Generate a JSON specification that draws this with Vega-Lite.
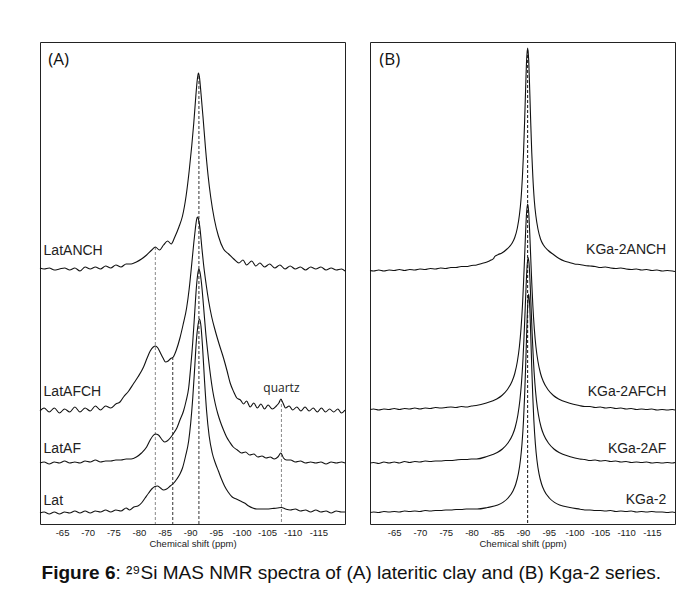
{
"$schema":"https://vega.github.io/schema/vega-lite/v6.json",
"padding":{"left":37,"top":41,"right":0,"bottom":0},
"autosize":{"type":"pad"},
"background":"white",
"config":{"view":{"stroke":"#222","strokeWidth":1},"font":"Liberation Sans","axis":{"grid":false},
"axisX":{"ticks":false,"domain":false,"labelFontSize":9.5,"labelColor":"#1a1a1a","labelPadding":3,"labelFont":"Liberation Sans","titleFont":"Liberation Sans","titleFontSize":9.5,"titleFontWeight":"normal","titleColor":"#1a1a1a","titlePadding":2}},
"spacing":14,
"vconcat":[
{"spacing":19,
"hconcat":[
{"width":305,"height":482,
"layer":[
{"data":{"values":[{"x":-83.2,"top":277,"b":0},{"x":-107.8,"top":125,"b":0}]},"mark":{"type":"rule","color":"#8a8a8a","strokeWidth":1,"strokeDash":[3,2]},
"encoding":{"x":{"field":"x","type":"quantitative","title":"Chemical shift (ppm)","axis":{"values":[-65,-70,-75,-80,-85,-90,-95,-100,-105,-110,-115],"labelExpr":"'' + datum.value"}},"y":{"field":"top","type":"quantitative","axis":null},"y2":{"field":"b"}}},
{"data":{"values":[{"x":-86.6,"top":167,"b":0},{"x":-91.7,"top":448,"b":0}]},"mark":{"type":"rule","color":"#333","strokeWidth":1,"strokeDash":[3,2]},
"encoding":{"x":{"field":"x","type":"quantitative","title":"Chemical shift (ppm)","axis":{"values":[-65,-70,-75,-80,-85,-90,-95,-100,-105,-110,-115],"labelExpr":"'' + datum.value"}},"y":{"field":"top","type":"quantitative","axis":null},"y2":{"field":"b"}}},
{"data":{"values":[
{"s":"LatANCH","x":-60.7,"v":256},{"s":"LatANCH","x":-61.5,"v":255},{"s":"LatANCH","x":-62.5,"v":256},{"s":"LatANCH","x":-63.5,"v":254},{"s":"LatANCH","x":-64.5,"v":255},{"s":"LatANCH","x":-65.5,"v":256},{"s":"LatANCH","x":-66.5,"v":254},{"s":"LatANCH","x":-67.5,"v":256},{"s":"LatANCH","x":-68.5,"v":253},{"s":"LatANCH","x":-69.5,"v":257},{"s":"LatANCH","x":-70.5,"v":255},{"s":"LatANCH","x":-71.5,"v":257},{"s":"LatANCH","x":-72.5,"v":255},{"s":"LatANCH","x":-73.5,"v":258},{"s":"LatANCH","x":-74.5,"v":256},{"s":"LatANCH","x":-75.5,"v":259},{"s":"LatANCH","x":-76.5,"v":257},{"s":"LatANCH","x":-77.5,"v":260},{"s":"LatANCH","x":-78.5,"v":260},{"s":"LatANCH","x":-79.5,"v":262},{"s":"LatANCH","x":-80.5,"v":265},{"s":"LatANCH","x":-81.5,"v":269},{"s":"LatANCH","x":-82.5,"v":274},{"s":"LatANCH","x":-83.2,"v":277},{"s":"LatANCH","x":-84,"v":274},{"s":"LatANCH","x":-84.8,"v":279},{"s":"LatANCH","x":-85.6,"v":283},{"s":"LatANCH","x":-86.3,"v":280},{"s":"LatANCH","x":-87,"v":287},{"s":"LatANCH","x":-87.8,"v":297},{"s":"LatANCH","x":-88.5,"v":308},{"s":"LatANCH","x":-89.2,"v":328},{"s":"LatANCH","x":-89.8,"v":353},{"s":"LatANCH","x":-90.3,"v":378},{"s":"LatANCH","x":-90.7,"v":401},{"s":"LatANCH","x":-91.1,"v":428},{"s":"LatANCH","x":-91.4,"v":445},{"s":"LatANCH","x":-91.6,"v":451},{"s":"LatANCH","x":-91.8,"v":447},{"s":"LatANCH","x":-92.1,"v":431},{"s":"LatANCH","x":-92.5,"v":407},{"s":"LatANCH","x":-93,"v":375},{"s":"LatANCH","x":-93.5,"v":348},{"s":"LatANCH","x":-94,"v":327},{"s":"LatANCH","x":-94.7,"v":305},{"s":"LatANCH","x":-95.5,"v":288},{"s":"LatANCH","x":-96.5,"v":275},{"s":"LatANCH","x":-97.5,"v":270},{"s":"LatANCH","x":-98.5,"v":265},{"s":"LatANCH","x":-99.5,"v":261},{"s":"LatANCH","x":-100.3,"v":264},{"s":"LatANCH","x":-101,"v":259},{"s":"LatANCH","x":-102,"v":263},{"s":"LatANCH","x":-102.8,"v":258},{"s":"LatANCH","x":-103.6,"v":261},{"s":"LatANCH","x":-104.5,"v":257},{"s":"LatANCH","x":-105.5,"v":260},{"s":"LatANCH","x":-106.5,"v":256},{"s":"LatANCH","x":-107.5,"v":259},{"s":"LatANCH","x":-108.5,"v":255},{"s":"LatANCH","x":-109.5,"v":258},{"s":"LatANCH","x":-110.5,"v":255},{"s":"LatANCH","x":-111.5,"v":257},{"s":"LatANCH","x":-112.5,"v":254},{"s":"LatANCH","x":-113.5,"v":257},{"s":"LatANCH","x":-114.5,"v":255},{"s":"LatANCH","x":-115.5,"v":257},{"s":"LatANCH","x":-116.5,"v":254},{"s":"LatANCH","x":-117.5,"v":256},{"s":"LatANCH","x":-118.5,"v":254},{"s":"LatANCH","x":-119.5,"v":255},{"s":"LatANCH","x":-120.2,"v":253},
{"s":"LatAFCH","x":-60.7,"v":113},{"s":"LatAFCH","x":-61.5,"v":116},{"s":"LatAFCH","x":-62.5,"v":112},{"s":"LatAFCH","x":-63.5,"v":116},{"s":"LatAFCH","x":-64.5,"v":111},{"s":"LatAFCH","x":-65.5,"v":115},{"s":"LatAFCH","x":-66.5,"v":112},{"s":"LatAFCH","x":-67.5,"v":117},{"s":"LatAFCH","x":-68.5,"v":112},{"s":"LatAFCH","x":-69.5,"v":116},{"s":"LatAFCH","x":-70.5,"v":113},{"s":"LatAFCH","x":-71.5,"v":118},{"s":"LatAFCH","x":-72.5,"v":114},{"s":"LatAFCH","x":-73.5,"v":118},{"s":"LatAFCH","x":-74.5,"v":116},{"s":"LatAFCH","x":-75.5,"v":120},{"s":"LatAFCH","x":-76.3,"v":122},{"s":"LatAFCH","x":-77,"v":127},{"s":"LatAFCH","x":-78,"v":133},{"s":"LatAFCH","x":-78.9,"v":140},{"s":"LatAFCH","x":-79.8,"v":147},{"s":"LatAFCH","x":-80.9,"v":157},{"s":"LatAFCH","x":-81.6,"v":166},{"s":"LatAFCH","x":-82.2,"v":173},{"s":"LatAFCH","x":-82.8,"v":177},{"s":"LatAFCH","x":-83.2,"v":178},{"s":"LatAFCH","x":-83.7,"v":176},{"s":"LatAFCH","x":-84.2,"v":171},{"s":"LatAFCH","x":-84.7,"v":166},{"s":"LatAFCH","x":-85.2,"v":162},{"s":"LatAFCH","x":-85.7,"v":163},{"s":"LatAFCH","x":-86.2,"v":165.5},{"s":"LatAFCH","x":-86.7,"v":167},{"s":"LatAFCH","x":-87.3,"v":174},{"s":"LatAFCH","x":-88,"v":186},{"s":"LatAFCH","x":-88.6,"v":199},{"s":"LatAFCH","x":-89.3,"v":216},{"s":"LatAFCH","x":-89.8,"v":235},{"s":"LatAFCH","x":-90.3,"v":260},{"s":"LatAFCH","x":-90.7,"v":281},{"s":"LatAFCH","x":-91,"v":295},{"s":"LatAFCH","x":-91.2,"v":303},{"s":"LatAFCH","x":-91.4,"v":307},{"s":"LatAFCH","x":-91.6,"v":305},{"s":"LatAFCH","x":-91.9,"v":296},{"s":"LatAFCH","x":-92.3,"v":275},{"s":"LatAFCH","x":-92.6,"v":260},{"s":"LatAFCH","x":-93.1,"v":240},{"s":"LatAFCH","x":-93.6,"v":223},{"s":"LatAFCH","x":-94.2,"v":207},{"s":"LatAFCH","x":-94.9,"v":193},{"s":"LatAFCH","x":-95.7,"v":179},{"s":"LatAFCH","x":-96.5,"v":166},{"s":"LatAFCH","x":-97.2,"v":153},{"s":"LatAFCH","x":-97.8,"v":141},{"s":"LatAFCH","x":-98.5,"v":132},{"s":"LatAFCH","x":-99.1,"v":126},{"s":"LatAFCH","x":-99.8,"v":124},{"s":"LatAFCH","x":-100.4,"v":120},{"s":"LatAFCH","x":-101,"v":123},{"s":"LatAFCH","x":-101.7,"v":117},{"s":"LatAFCH","x":-102.4,"v":121},{"s":"LatAFCH","x":-103.1,"v":116},{"s":"LatAFCH","x":-103.8,"v":120},{"s":"LatAFCH","x":-104.5,"v":115},{"s":"LatAFCH","x":-105.2,"v":119},{"s":"LatAFCH","x":-106,"v":115},{"s":"LatAFCH","x":-106.8,"v":118},{"s":"LatAFCH","x":-107.3,"v":121},{"s":"LatAFCH","x":-107.7,"v":125},{"s":"LatAFCH","x":-108.1,"v":121},{"s":"LatAFCH","x":-108.6,"v":116},{"s":"LatAFCH","x":-109.3,"v":118},{"s":"LatAFCH","x":-110,"v":114},{"s":"LatAFCH","x":-110.8,"v":117},{"s":"LatAFCH","x":-111.6,"v":113},{"s":"LatAFCH","x":-112.4,"v":117},{"s":"LatAFCH","x":-113.2,"v":113},{"s":"LatAFCH","x":-114,"v":116},{"s":"LatAFCH","x":-114.8,"v":112},{"s":"LatAFCH","x":-115.6,"v":116},{"s":"LatAFCH","x":-116.4,"v":112},{"s":"LatAFCH","x":-117.2,"v":115},{"s":"LatAFCH","x":-118,"v":112},{"s":"LatAFCH","x":-118.8,"v":115},{"s":"LatAFCH","x":-119.5,"v":111},{"s":"LatAFCH","x":-120.2,"v":114},
{"s":"LatAF","x":-60.7,"v":61},{"s":"LatAF","x":-61.5,"v":62},{"s":"LatAF","x":-62.5,"v":60},{"s":"LatAF","x":-63.5,"v":62},{"s":"LatAF","x":-64.5,"v":61},{"s":"LatAF","x":-65.5,"v":63},{"s":"LatAF","x":-66.5,"v":61},{"s":"LatAF","x":-67.5,"v":62},{"s":"LatAF","x":-68.5,"v":61},{"s":"LatAF","x":-69.5,"v":63},{"s":"LatAF","x":-70.5,"v":62},{"s":"LatAF","x":-71.5,"v":64},{"s":"LatAF","x":-72.5,"v":62},{"s":"LatAF","x":-73.5,"v":63},{"s":"LatAF","x":-74.5,"v":63},{"s":"LatAF","x":-75.5,"v":64},{"s":"LatAF","x":-76.5,"v":64},{"s":"LatAF","x":-77.5,"v":65},{"s":"LatAF","x":-78.5,"v":65},{"s":"LatAF","x":-79.5,"v":67},{"s":"LatAF","x":-80.5,"v":71},{"s":"LatAF","x":-81.5,"v":77},{"s":"LatAF","x":-82.2,"v":84},{"s":"LatAF","x":-82.7,"v":88},{"s":"LatAF","x":-83.2,"v":90},{"s":"LatAF","x":-83.8,"v":89},{"s":"LatAF","x":-84.4,"v":85},{"s":"LatAF","x":-85,"v":82},{"s":"LatAF","x":-85.5,"v":83},{"s":"LatAF","x":-86.1,"v":86},{"s":"LatAF","x":-86.8,"v":91},{"s":"LatAF","x":-87.4,"v":96},{"s":"LatAF","x":-88,"v":104},{"s":"LatAF","x":-88.7,"v":113},{"s":"LatAF","x":-89.2,"v":123},{"s":"LatAF","x":-89.7,"v":136},{"s":"LatAF","x":-90.1,"v":157},{"s":"LatAF","x":-90.5,"v":182},{"s":"LatAF","x":-90.9,"v":213},{"s":"LatAF","x":-91.2,"v":236},{"s":"LatAF","x":-91.5,"v":251},{"s":"LatAF","x":-91.7,"v":255},{"s":"LatAF","x":-91.9,"v":252},{"s":"LatAF","x":-92.2,"v":241},{"s":"LatAF","x":-92.6,"v":218},{"s":"LatAF","x":-93,"v":193},{"s":"LatAF","x":-93.4,"v":173},{"s":"LatAF","x":-93.9,"v":151},{"s":"LatAF","x":-94.4,"v":133},{"s":"LatAF","x":-94.9,"v":120},{"s":"LatAF","x":-95.4,"v":110},{"s":"LatAF","x":-95.9,"v":102},{"s":"LatAF","x":-96.5,"v":94},{"s":"LatAF","x":-97.1,"v":87},{"s":"LatAF","x":-97.7,"v":82},{"s":"LatAF","x":-98.4,"v":77},{"s":"LatAF","x":-99.2,"v":74},{"s":"LatAF","x":-100,"v":71},{"s":"LatAF","x":-100.8,"v":72},{"s":"LatAF","x":-101.6,"v":69},{"s":"LatAF","x":-102.4,"v":70},{"s":"LatAF","x":-103.2,"v":67},{"s":"LatAF","x":-104,"v":68},{"s":"LatAF","x":-104.8,"v":66},{"s":"LatAF","x":-105.6,"v":67},{"s":"LatAF","x":-106.4,"v":65},{"s":"LatAF","x":-107.1,"v":67},{"s":"LatAF","x":-107.7,"v":71},{"s":"LatAF","x":-108.2,"v":66},{"s":"LatAF","x":-108.8,"v":64},{"s":"LatAF","x":-109.6,"v":64},{"s":"LatAF","x":-110.5,"v":62},{"s":"LatAF","x":-111.5,"v":63},{"s":"LatAF","x":-112.5,"v":61},{"s":"LatAF","x":-113.5,"v":62},{"s":"LatAF","x":-114.5,"v":61},{"s":"LatAF","x":-115.5,"v":62},{"s":"LatAF","x":-116.5,"v":60},{"s":"LatAF","x":-117.5,"v":62},{"s":"LatAF","x":-118.5,"v":61},{"s":"LatAF","x":-119.5,"v":62},{"s":"LatAF","x":-120.2,"v":61},
{"s":"Lat","x":-60.7,"v":11},{"s":"Lat","x":-61.5,"v":12},{"s":"Lat","x":-62.5,"v":10},{"s":"Lat","x":-63.5,"v":12},{"s":"Lat","x":-64.5,"v":10},{"s":"Lat","x":-65.5,"v":12},{"s":"Lat","x":-66.5,"v":11},{"s":"Lat","x":-67.5,"v":13},{"s":"Lat","x":-68.5,"v":11},{"s":"Lat","x":-69.5,"v":13},{"s":"Lat","x":-70.5,"v":11},{"s":"Lat","x":-71.5,"v":13},{"s":"Lat","x":-72.5,"v":12},{"s":"Lat","x":-73.5,"v":14},{"s":"Lat","x":-74.5,"v":12},{"s":"Lat","x":-75.5,"v":14},{"s":"Lat","x":-76.5,"v":13},{"s":"Lat","x":-77.5,"v":16},{"s":"Lat","x":-78.2,"v":14},{"s":"Lat","x":-79,"v":17},{"s":"Lat","x":-79.8,"v":18},{"s":"Lat","x":-80.5,"v":21},{"s":"Lat","x":-81.2,"v":26},{"s":"Lat","x":-81.9,"v":31},{"s":"Lat","x":-82.5,"v":35},{"s":"Lat","x":-83.1,"v":37.5},{"s":"Lat","x":-83.6,"v":38},{"s":"Lat","x":-84.2,"v":36},{"s":"Lat","x":-84.8,"v":34},{"s":"Lat","x":-85.4,"v":35},{"s":"Lat","x":-86.1,"v":38},{"s":"Lat","x":-86.8,"v":41},{"s":"Lat","x":-87.4,"v":45},{"s":"Lat","x":-88,"v":50},{"s":"Lat","x":-88.5,"v":56},{"s":"Lat","x":-89.1,"v":68},{"s":"Lat","x":-89.7,"v":83},{"s":"Lat","x":-90.1,"v":101},{"s":"Lat","x":-90.5,"v":126},{"s":"Lat","x":-90.9,"v":158},{"s":"Lat","x":-91.2,"v":183},{"s":"Lat","x":-91.5,"v":198},{"s":"Lat","x":-91.8,"v":205},{"s":"Lat","x":-92.1,"v":198},{"s":"Lat","x":-92.4,"v":178},{"s":"Lat","x":-92.8,"v":143},{"s":"Lat","x":-93.2,"v":113},{"s":"Lat","x":-93.7,"v":88},{"s":"Lat","x":-94.3,"v":71},{"s":"Lat","x":-94.9,"v":61},{"s":"Lat","x":-95.5,"v":53},{"s":"Lat","x":-96.1,"v":45},{"s":"Lat","x":-96.7,"v":38},{"s":"Lat","x":-97.4,"v":32},{"s":"Lat","x":-98.2,"v":27},{"s":"Lat","x":-99,"v":25},{"s":"Lat","x":-99.8,"v":23},{"s":"Lat","x":-100.6,"v":21},{"s":"Lat","x":-101.4,"v":18},{"s":"Lat","x":-102.2,"v":16},{"s":"Lat","x":-103,"v":15},{"s":"Lat","x":-104,"v":15},{"s":"Lat","x":-105,"v":15},{"s":"Lat","x":-106,"v":15.5},{"s":"Lat","x":-107,"v":16},{"s":"Lat","x":-107.8,"v":16.5},{"s":"Lat","x":-108.6,"v":15},{"s":"Lat","x":-109.5,"v":14},{"s":"Lat","x":-110.5,"v":15},{"s":"Lat","x":-111.5,"v":13},{"s":"Lat","x":-112.5,"v":14},{"s":"Lat","x":-113.5,"v":12},{"s":"Lat","x":-114.5,"v":14},{"s":"Lat","x":-115.5,"v":12},{"s":"Lat","x":-116.5,"v":13},{"s":"Lat","x":-117.5,"v":11},{"s":"Lat","x":-118.5,"v":13},{"s":"Lat","x":-119.5,"v":12},{"s":"Lat","x":-120.2,"v":12}
]},"mark":{"type":"line","color":"#111","strokeWidth":1.1,"interpolate":"monotone"},
"encoding":{
"x":{"field":"x","type":"quantitative","title":"Chemical shift (ppm)","scale":{"domain":[-120.2,-60.7],"reverse":true,"nice":false,"zero":false},"axis":{"values":[-65,-70,-75,-80,-85,-90,-95,-100,-105,-110,-115],"labelExpr":"'' + datum.value"}},
"y":{"field":"v","type":"quantitative","scale":{"domain":[0,482],"nice":false,"zero":false},"axis":null},
"detail":{"field":"s","type":"nominal"}}},
{"data":{"values":[{"t":"LatANCH","x":-61.4,"v":273},{"t":"LatAFCH","x":-61.4,"v":132},{"t":"LatAF","x":-61.4,"v":75},{"t":"Lat","x":-61.4,"v":23}]},"mark":{"type":"text","align":"left","baseline":"middle","fontSize":14,"font":"Liberation Sans","color":"#222"},
"encoding":{"x":{"field":"x","type":"quantitative","title":"Chemical shift (ppm)","axis":{"values":[-65,-70,-75,-80,-85,-90,-95,-100,-105,-110,-115],"labelExpr":"'' + datum.value"}},"y":{"field":"v","type":"quantitative","axis":null},"text":{"field":"t","type":"nominal"}}},
{"data":{"values":[{"t":"(A)","x":-62.3,"v":464}]},"mark":{"type":"text","align":"left","baseline":"middle","fontSize":17,"font":"Open Sans","color":"#111"},
"encoding":{"x":{"field":"x","type":"quantitative","title":"Chemical shift (ppm)","axis":{"values":[-65,-70,-75,-80,-85,-90,-95,-100,-105,-110,-115],"labelExpr":"'' + datum.value"}},"y":{"field":"v","type":"quantitative","axis":null},"text":{"field":"t","type":"nominal"}}},
{"data":{"values":[{"t":"quartz","x":-107.8,"v":136}]},"mark":{"type":"text","align":"center","baseline":"middle","fontSize":12,"font":"Open Sans","color":"#222"},
"encoding":{"x":{"field":"x","type":"quantitative","title":"Chemical shift (ppm)","axis":{"values":[-65,-70,-75,-80,-85,-90,-95,-100,-105,-110,-115],"labelExpr":"'' + datum.value"}},"y":{"field":"v","type":"quantitative","axis":null},"text":{"field":"t","type":"nominal"}}}
]},
{"width":305,"height":482,
"layer":[
{"data":{"values":[{"x":-90.9,"top":474,"b":0}]},"mark":{"type":"rule","color":"#111","strokeWidth":1,"strokeDash":[3,2]},
"encoding":{"x":{"field":"x","type":"quantitative","title":"Chemical shift (ppm)","axis":{"values":[-65,-70,-75,-80,-85,-90,-95,-100,-105,-110,-115],"labelExpr":"'' + datum.value"}},"y":{"field":"top","type":"quantitative","axis":null},"y2":{"field":"b"}}},
{"data":{"values":[
{"s":"KGa-2ANCH","x":-60.3,"v":253.5},{"s":"KGa-2ANCH","x":-61,"v":253},{"s":"KGa-2ANCH","x":-62,"v":254},{"s":"KGa-2ANCH","x":-63,"v":253},{"s":"KGa-2ANCH","x":-64,"v":254},{"s":"KGa-2ANCH","x":-65,"v":253.5},{"s":"KGa-2ANCH","x":-66,"v":254.5},{"s":"KGa-2ANCH","x":-67,"v":253.5},{"s":"KGa-2ANCH","x":-68,"v":254.5},{"s":"KGa-2ANCH","x":-69,"v":254},{"s":"KGa-2ANCH","x":-70,"v":255},{"s":"KGa-2ANCH","x":-71,"v":254.5},{"s":"KGa-2ANCH","x":-72,"v":255.5},{"s":"KGa-2ANCH","x":-73,"v":255},{"s":"KGa-2ANCH","x":-74,"v":256},{"s":"KGa-2ANCH","x":-75,"v":255.5},{"s":"KGa-2ANCH","x":-76,"v":256.5},{"s":"KGa-2ANCH","x":-77,"v":256.5},{"s":"KGa-2ANCH","x":-78,"v":257.5},{"s":"KGa-2ANCH","x":-79,"v":257.5},{"s":"KGa-2ANCH","x":-80,"v":258.5},{"s":"KGa-2ANCH","x":-81,"v":259},{"s":"KGa-2ANCH","x":-82,"v":260.5},{"s":"KGa-2ANCH","x":-83,"v":262},{"s":"KGa-2ANCH","x":-83.8,"v":264},{"s":"KGa-2ANCH","x":-84.3,"v":265.5},{"s":"KGa-2ANCH","x":-84.5,"v":267.5},{"s":"KGa-2ANCH","x":-85.2,"v":269.5},{"s":"KGa-2ANCH","x":-85.9,"v":271},{"s":"KGa-2ANCH","x":-86.9,"v":275},{"s":"KGa-2ANCH","x":-87.9,"v":281},{"s":"KGa-2ANCH","x":-88.4,"v":286.5},{"s":"KGa-2ANCH","x":-88.9,"v":296},{"s":"KGa-2ANCH","x":-89.3,"v":309},{"s":"KGa-2ANCH","x":-89.6,"v":324},{"s":"KGa-2ANCH","x":-89.9,"v":349},{"s":"KGa-2ANCH","x":-90.1,"v":371.5},{"s":"KGa-2ANCH","x":-90.3,"v":401},{"s":"KGa-2ANCH","x":-90.5,"v":434},{"s":"KGa-2ANCH","x":-90.7,"v":464},{"s":"KGa-2ANCH","x":-90.9,"v":476},{"s":"KGa-2ANCH","x":-91.1,"v":464},{"s":"KGa-2ANCH","x":-91.3,"v":434},{"s":"KGa-2ANCH","x":-91.5,"v":401},{"s":"KGa-2ANCH","x":-91.7,"v":371},{"s":"KGa-2ANCH","x":-91.9,"v":348},{"s":"KGa-2ANCH","x":-92.2,"v":323},{"s":"KGa-2ANCH","x":-92.5,"v":308},{"s":"KGa-2ANCH","x":-92.9,"v":295},{"s":"KGa-2ANCH","x":-93.4,"v":285},{"s":"KGa-2ANCH","x":-93.9,"v":279.5},{"s":"KGa-2ANCH","x":-94.9,"v":273.5},{"s":"KGa-2ANCH","x":-95.9,"v":269.5},{"s":"KGa-2ANCH","x":-97,"v":265.5},{"s":"KGa-2ANCH","x":-98,"v":263},{"s":"KGa-2ANCH","x":-99,"v":261.5},{"s":"KGa-2ANCH","x":-100,"v":260},{"s":"KGa-2ANCH","x":-101,"v":259.5},{"s":"KGa-2ANCH","x":-102,"v":258.5},{"s":"KGa-2ANCH","x":-103,"v":258},{"s":"KGa-2ANCH","x":-104,"v":257.5},{"s":"KGa-2ANCH","x":-105,"v":256.5},{"s":"KGa-2ANCH","x":-106,"v":257},{"s":"KGa-2ANCH","x":-107,"v":256},{"s":"KGa-2ANCH","x":-108,"v":255.5},{"s":"KGa-2ANCH","x":-109,"v":256},{"s":"KGa-2ANCH","x":-110,"v":255},{"s":"KGa-2ANCH","x":-111,"v":254.5},{"s":"KGa-2ANCH","x":-112,"v":255},{"s":"KGa-2ANCH","x":-113,"v":254},{"s":"KGa-2ANCH","x":-114,"v":254.5},{"s":"KGa-2ANCH","x":-115,"v":253.5},{"s":"KGa-2ANCH","x":-116,"v":254},{"s":"KGa-2ANCH","x":-117,"v":253},{"s":"KGa-2ANCH","x":-118,"v":253.5},{"s":"KGa-2ANCH","x":-119,"v":253},{"s":"KGa-2ANCH","x":-119.5,"v":252.5},
{"s":"KGa-2AFCH","x":-60.3,"v":114.5},{"s":"KGa-2AFCH","x":-61,"v":115},{"s":"KGa-2AFCH","x":-62,"v":114},{"s":"KGa-2AFCH","x":-63,"v":115},{"s":"KGa-2AFCH","x":-64,"v":114.5},{"s":"KGa-2AFCH","x":-65,"v":115.5},{"s":"KGa-2AFCH","x":-66,"v":114.5},{"s":"KGa-2AFCH","x":-67,"v":115.5},{"s":"KGa-2AFCH","x":-68,"v":115},{"s":"KGa-2AFCH","x":-69,"v":116},{"s":"KGa-2AFCH","x":-70,"v":115},{"s":"KGa-2AFCH","x":-71,"v":116},{"s":"KGa-2AFCH","x":-72,"v":115.5},{"s":"KGa-2AFCH","x":-73,"v":116.5},{"s":"KGa-2AFCH","x":-74,"v":116},{"s":"KGa-2AFCH","x":-75,"v":116.5},{"s":"KGa-2AFCH","x":-76,"v":117},{"s":"KGa-2AFCH","x":-77,"v":116.5},{"s":"KGa-2AFCH","x":-78,"v":117.5},{"s":"KGa-2AFCH","x":-79,"v":117},{"s":"KGa-2AFCH","x":-80,"v":118},{"s":"KGa-2AFCH","x":-80.9,"v":118.5},{"s":"KGa-2AFCH","x":-82.9,"v":121},{"s":"KGa-2AFCH","x":-84.9,"v":125},{"s":"KGa-2AFCH","x":-85.9,"v":128.5},{"s":"KGa-2AFCH","x":-86.9,"v":134},{"s":"KGa-2AFCH","x":-87.9,"v":143},{"s":"KGa-2AFCH","x":-88.4,"v":150.5},{"s":"KGa-2AFCH","x":-88.9,"v":162.5},{"s":"KGa-2AFCH","x":-89.3,"v":177.5},{"s":"KGa-2AFCH","x":-89.6,"v":194.6},{"s":"KGa-2AFCH","x":-89.9,"v":219},{"s":"KGa-2AFCH","x":-90.1,"v":241},{"s":"KGa-2AFCH","x":-90.3,"v":266},{"s":"KGa-2AFCH","x":-90.5,"v":291.4},{"s":"KGa-2AFCH","x":-90.7,"v":312},{"s":"KGa-2AFCH","x":-90.9,"v":320},{"s":"KGa-2AFCH","x":-91.1,"v":312},{"s":"KGa-2AFCH","x":-91.3,"v":291.4},{"s":"KGa-2AFCH","x":-91.5,"v":266},{"s":"KGa-2AFCH","x":-91.7,"v":241},{"s":"KGa-2AFCH","x":-91.9,"v":219},{"s":"KGa-2AFCH","x":-92.2,"v":194.6},{"s":"KGa-2AFCH","x":-92.5,"v":177.5},{"s":"KGa-2AFCH","x":-92.9,"v":162.5},{"s":"KGa-2AFCH","x":-93.4,"v":150.5},{"s":"KGa-2AFCH","x":-93.9,"v":143},{"s":"KGa-2AFCH","x":-94.9,"v":134},{"s":"KGa-2AFCH","x":-95.9,"v":128.5},{"s":"KGa-2AFCH","x":-96.9,"v":125},{"s":"KGa-2AFCH","x":-98.9,"v":121},{"s":"KGa-2AFCH","x":-100.9,"v":118.5},{"s":"KGa-2AFCH","x":-102,"v":117.5},{"s":"KGa-2AFCH","x":-103,"v":117.5},{"s":"KGa-2AFCH","x":-104,"v":116.5},{"s":"KGa-2AFCH","x":-105,"v":117},{"s":"KGa-2AFCH","x":-106,"v":116},{"s":"KGa-2AFCH","x":-107,"v":116.5},{"s":"KGa-2AFCH","x":-108,"v":115.5},{"s":"KGa-2AFCH","x":-109,"v":116},{"s":"KGa-2AFCH","x":-110,"v":115},{"s":"KGa-2AFCH","x":-111,"v":115.5},{"s":"KGa-2AFCH","x":-112,"v":114.5},{"s":"KGa-2AFCH","x":-113,"v":115},{"s":"KGa-2AFCH","x":-114,"v":114.5},{"s":"KGa-2AFCH","x":-115,"v":115},{"s":"KGa-2AFCH","x":-116,"v":114},{"s":"KGa-2AFCH","x":-117,"v":114.5},{"s":"KGa-2AFCH","x":-118,"v":114},{"s":"KGa-2AFCH","x":-119,"v":114.5},{"s":"KGa-2AFCH","x":-119.5,"v":114},
{"s":"KGa-2AF","x":-60.3,"v":61},{"s":"KGa-2AF","x":-61,"v":61.5},{"s":"KGa-2AF","x":-62,"v":60.5},{"s":"KGa-2AF","x":-63,"v":62},{"s":"KGa-2AF","x":-64,"v":61},{"s":"KGa-2AF","x":-65,"v":62},{"s":"KGa-2AF","x":-66,"v":61},{"s":"KGa-2AF","x":-67,"v":62.5},{"s":"KGa-2AF","x":-68,"v":61.5},{"s":"KGa-2AF","x":-69,"v":62.5},{"s":"KGa-2AF","x":-70,"v":62},{"s":"KGa-2AF","x":-71,"v":63},{"s":"KGa-2AF","x":-72,"v":62.5},{"s":"KGa-2AF","x":-73,"v":63},{"s":"KGa-2AF","x":-74,"v":63},{"s":"KGa-2AF","x":-75,"v":63.5},{"s":"KGa-2AF","x":-76,"v":63.5},{"s":"KGa-2AF","x":-77,"v":64},{"s":"KGa-2AF","x":-78,"v":64.5},{"s":"KGa-2AF","x":-79,"v":64.5},{"s":"KGa-2AF","x":-80,"v":65},{"s":"KGa-2AF","x":-81,"v":65},{"s":"KGa-2AF","x":-83,"v":67.5},{"s":"KGa-2AF","x":-85,"v":71.5},{"s":"KGa-2AF","x":-86,"v":75},{"s":"KGa-2AF","x":-87,"v":80.5},{"s":"KGa-2AF","x":-88,"v":89.5},{"s":"KGa-2AF","x":-88.5,"v":97},{"s":"KGa-2AF","x":-89,"v":109},{"s":"KGa-2AF","x":-89.4,"v":124},{"s":"KGa-2AF","x":-89.7,"v":141},{"s":"KGa-2AF","x":-90,"v":165.5},{"s":"KGa-2AF","x":-90.2,"v":187.5},{"s":"KGa-2AF","x":-90.4,"v":212.5},{"s":"KGa-2AF","x":-90.6,"v":238},{"s":"KGa-2AF","x":-90.8,"v":258.5},{"s":"KGa-2AF","x":-91,"v":266.5},{"s":"KGa-2AF","x":-91.2,"v":258.5},{"s":"KGa-2AF","x":-91.4,"v":238},{"s":"KGa-2AF","x":-91.6,"v":212.5},{"s":"KGa-2AF","x":-91.8,"v":187.5},{"s":"KGa-2AF","x":-92,"v":165.5},{"s":"KGa-2AF","x":-92.3,"v":141},{"s":"KGa-2AF","x":-92.6,"v":124},{"s":"KGa-2AF","x":-93,"v":109},{"s":"KGa-2AF","x":-93.5,"v":97},{"s":"KGa-2AF","x":-94,"v":89.5},{"s":"KGa-2AF","x":-95,"v":80.5},{"s":"KGa-2AF","x":-96,"v":75},{"s":"KGa-2AF","x":-97,"v":71.5},{"s":"KGa-2AF","x":-99,"v":67.5},{"s":"KGa-2AF","x":-101,"v":65},{"s":"KGa-2AF","x":-102,"v":64.5},{"s":"KGa-2AF","x":-103,"v":63.5},{"s":"KGa-2AF","x":-104,"v":64},{"s":"KGa-2AF","x":-105,"v":63},{"s":"KGa-2AF","x":-106,"v":63.5},{"s":"KGa-2AF","x":-107,"v":62.5},{"s":"KGa-2AF","x":-108,"v":63},{"s":"KGa-2AF","x":-109,"v":62},{"s":"KGa-2AF","x":-110,"v":62.5},{"s":"KGa-2AF","x":-111,"v":61.5},{"s":"KGa-2AF","x":-112,"v":62},{"s":"KGa-2AF","x":-113,"v":61.5},{"s":"KGa-2AF","x":-114,"v":62},{"s":"KGa-2AF","x":-115,"v":61},{"s":"KGa-2AF","x":-116,"v":61.5},{"s":"KGa-2AF","x":-117,"v":61},{"s":"KGa-2AF","x":-118,"v":61.5},{"s":"KGa-2AF","x":-119,"v":61},{"s":"KGa-2AF","x":-119.5,"v":61.5},
{"s":"KGa-2","x":-60.3,"v":11.5},{"s":"KGa-2","x":-61,"v":12},{"s":"KGa-2","x":-62,"v":11.5},{"s":"KGa-2","x":-63,"v":12.5},{"s":"KGa-2","x":-64,"v":12},{"s":"KGa-2","x":-65,"v":12.5},{"s":"KGa-2","x":-66,"v":12},{"s":"KGa-2","x":-67,"v":13},{"s":"KGa-2","x":-68,"v":12.5},{"s":"KGa-2","x":-69,"v":13},{"s":"KGa-2","x":-70,"v":12.5},{"s":"KGa-2","x":-71,"v":13.5},{"s":"KGa-2","x":-72,"v":13},{"s":"KGa-2","x":-73,"v":13.5},{"s":"KGa-2","x":-74,"v":13.5},{"s":"KGa-2","x":-75,"v":14},{"s":"KGa-2","x":-76,"v":14},{"s":"KGa-2","x":-77,"v":14.5},{"s":"KGa-2","x":-78,"v":14.5},{"s":"KGa-2","x":-79,"v":15},{"s":"KGa-2","x":-80,"v":15},{"s":"KGa-2","x":-81.1,"v":15},{"s":"KGa-2","x":-83.1,"v":16.5},{"s":"KGa-2","x":-85.1,"v":19},{"s":"KGa-2","x":-86.1,"v":21.6},{"s":"KGa-2","x":-87.1,"v":26},{"s":"KGa-2","x":-88.1,"v":33.6},{"s":"KGa-2","x":-88.6,"v":40},{"s":"KGa-2","x":-89.1,"v":50.3},{"s":"KGa-2","x":-89.5,"v":64},{"s":"KGa-2","x":-89.8,"v":80},{"s":"KGa-2","x":-90.1,"v":104},{"s":"KGa-2","x":-90.3,"v":127},{"s":"KGa-2","x":-90.5,"v":156},{"s":"KGa-2","x":-90.7,"v":189},{"s":"KGa-2","x":-90.9,"v":218},{"s":"KGa-2","x":-91.1,"v":230},{"s":"KGa-2","x":-91.3,"v":218},{"s":"KGa-2","x":-91.5,"v":189},{"s":"KGa-2","x":-91.7,"v":156},{"s":"KGa-2","x":-91.9,"v":127},{"s":"KGa-2","x":-92.1,"v":104},{"s":"KGa-2","x":-92.4,"v":80},{"s":"KGa-2","x":-92.7,"v":64},{"s":"KGa-2","x":-93.1,"v":50.3},{"s":"KGa-2","x":-93.6,"v":40},{"s":"KGa-2","x":-94.1,"v":33.6},{"s":"KGa-2","x":-95.1,"v":26},{"s":"KGa-2","x":-96.1,"v":21.6},{"s":"KGa-2","x":-97.1,"v":19},{"s":"KGa-2","x":-99.1,"v":16.5},{"s":"KGa-2","x":-101.1,"v":14.8},{"s":"KGa-2","x":-102,"v":14},{"s":"KGa-2","x":-103,"v":14},{"s":"KGa-2","x":-104,"v":13.5},{"s":"KGa-2","x":-105,"v":13.5},{"s":"KGa-2","x":-106,"v":13},{"s":"KGa-2","x":-107,"v":13.5},{"s":"KGa-2","x":-108,"v":12.5},{"s":"KGa-2","x":-109,"v":13},{"s":"KGa-2","x":-110,"v":12.5},{"s":"KGa-2","x":-111,"v":13},{"s":"KGa-2","x":-112,"v":12},{"s":"KGa-2","x":-113,"v":12.5},{"s":"KGa-2","x":-114,"v":12},{"s":"KGa-2","x":-115,"v":12.5},{"s":"KGa-2","x":-116,"v":12},{"s":"KGa-2","x":-117,"v":12},{"s":"KGa-2","x":-118,"v":11.5},{"s":"KGa-2","x":-119,"v":12},{"s":"KGa-2","x":-119.5,"v":11.5}
]},"mark":{"type":"line","color":"#111","strokeWidth":1.1,"interpolate":"monotone"},
"encoding":{
"x":{"field":"x","type":"quantitative","title":"Chemical shift (ppm)","scale":{"domain":[-119.5,-60.3],"reverse":true,"nice":false,"zero":false},"axis":{"values":[-65,-70,-75,-80,-85,-90,-95,-100,-105,-110,-115],"labelExpr":"'' + datum.value"}},
"y":{"field":"v","type":"quantitative","scale":{"domain":[0,482],"nice":false,"zero":false},"axis":null},
"detail":{"field":"s","type":"nominal"}}},
{"data":{"values":[{"t":"KGa-2ANCH","x":-117.8,"v":274},{"t":"KGa-2AFCH","x":-117.8,"v":132},{"t":"KGa-2AF","x":-117.8,"v":75},{"t":"KGa-2","x":-117.8,"v":24}]},"mark":{"type":"text","align":"right","baseline":"middle","fontSize":14,"font":"Liberation Sans","color":"#222"},
"encoding":{"x":{"field":"x","type":"quantitative","title":"Chemical shift (ppm)","axis":{"values":[-65,-70,-75,-80,-85,-90,-95,-100,-105,-110,-115],"labelExpr":"'' + datum.value"}},"y":{"field":"v","type":"quantitative","axis":null},"text":{"field":"t","type":"nominal"}}},
{"data":{"values":[{"t":"(B)","x":-62.1,"v":464}]},"mark":{"type":"text","align":"left","baseline":"middle","fontSize":17,"font":"Open Sans","color":"#111"},
"encoding":{"x":{"field":"x","type":"quantitative","title":"Chemical shift (ppm)","axis":{"values":[-65,-70,-75,-80,-85,-90,-95,-100,-105,-110,-115],"labelExpr":"'' + datum.value"}},"y":{"field":"v","type":"quantitative","axis":null},"text":{"field":"t","type":"nominal"}}}
]}
]},
{"width":629,"height":20,"view":{"stroke":null},
"layer":[
{"data":{"values":[{"t":"Figure 6","p":0.12,"q":0.5}]},"mark":{"type":"text","align":"right","baseline":"middle","fontSize":19,"font":"Liberation Sans","fontWeight":"bold","color":"#111"},
"encoding":{"x":{"field":"p","type":"quantitative","scale":{"domain":[0,1]},"axis":null},"y":{"field":"q","type":"quantitative","scale":{"domain":[0,1]},"axis":null},"text":{"field":"t","type":"nominal"}}},
{"data":{"values":[{"t":": ²⁹Si MAS NMR spectra of (A) lateritic clay and (B) Kga-2 series.","p":0.12,"q":0.5}]},"mark":{"type":"text","align":"left","baseline":"middle","fontSize":19,"font":"Liberation Sans","color":"#111"},
"encoding":{"x":{"field":"p","type":"quantitative","axis":null},"y":{"field":"q","type":"quantitative","axis":null},"text":{"field":"t","type":"nominal"}}}
]}
]
}
